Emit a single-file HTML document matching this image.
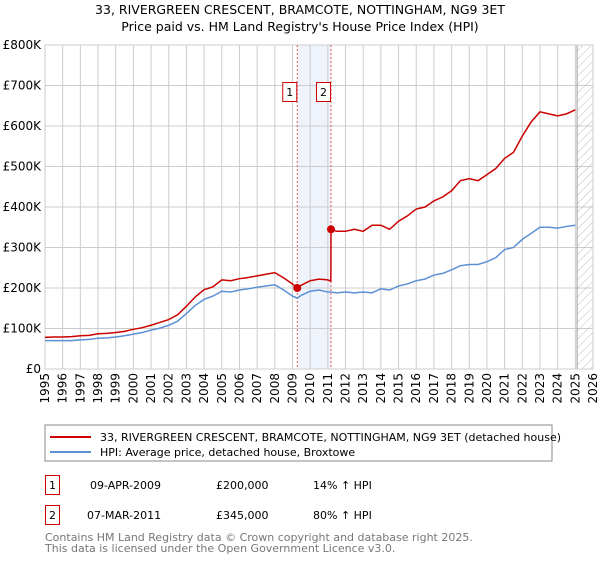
<!DOCTYPE html>
<html><head><meta charset="utf-8"><style>
body{margin:0;background:#fff;font-family:"Liberation Sans","DejaVu Sans",sans-serif;}
svg text{font-family:"DejaVu Sans","Liberation Sans",sans-serif;}
</style></head><body>
<svg id="c" width="600" height="560" xmlns="http://www.w3.org/2000/svg">
<defs><pattern id="hatch" width="6" height="6" patternUnits="userSpaceOnUse" patternTransform="rotate(45)"><line x1="0" y1="0" x2="0" y2="6" stroke="#bbb" stroke-width="1"/></pattern></defs>
<text x="300" y="14" text-anchor="middle" font-size="12.5">33, RIVERGREEN CRESCENT, BRAMCOTE, NOTTINGHAM, NG9 3ET</text>
<text x="300" y="31" text-anchor="middle" font-size="12.5">Price paid vs. HM Land Registry's House Price Index (HPI)</text>
<g id="grid"></g><g id="marks"></g><g id="axes"></g>
<rect x="45" y="425" width="507" height="36" fill="none" stroke="#888"/>
<line x1="50" y1="437" x2="91" y2="437" stroke="#cc0000" stroke-width="2"/>
<text x="100" y="441" font-size="11">33, RIVERGREEN CRESCENT, BRAMCOTE, NOTTINGHAM, NG9 3ET (detached house)</text>
<line x1="50" y1="452" x2="91" y2="452" stroke="#5b8fd6" stroke-width="2"/>
<text x="100" y="456" font-size="11">HPI: Average price, detached house, Broxtowe</text>
<g font-size="11">
<rect x="45.5" y="475.5" width="14" height="19" fill="none" stroke="#cc0000"/>
<text x="52.5" y="489" text-anchor="middle">1</text>
<text x="90" y="489">09-APR-2009</text>
<text x="216" y="489">£200,000</text>
<text x="313" y="489">14% ↑ HPI</text>
<rect x="45.5" y="505.5" width="14" height="19" fill="none" stroke="#cc0000"/>
<text x="52.5" y="519" text-anchor="middle">2</text>
<text x="87" y="519">07-MAR-2011</text>
<text x="216" y="519">£345,000</text>
<text x="313" y="519">80% ↑ HPI</text>
</g>
<text x="45" y="541" font-size="11" fill="#777">Contains HM Land Registry data © Crown copyright and database right 2025.</text>
<text x="45" y="552" font-size="11" fill="#777">This data is licensed under the Open Government Licence v3.0.</text>
</svg>
<script>
const years=[1995,1995.5,1996,1996.5,1997,1997.5,1998,1998.5,1999,1999.5,2000,2000.5,2001,2001.5,2002,2002.5,2003,2003.5,2004,2004.5,2005,2005.5,2006,2006.5,2007,2007.5,2008,2008.5,2009,2009.27,2009.5,2010,2010.5,2011,2011.18,2011.5,2012,2012.5,2013,2013.5,2014,2014.5,2015,2015.5,2016,2016.5,2017,2017.5,2018,2018.5,2019,2019.5,2020,2020.5,2021,2021.5,2022,2022.5,2023,2023.5,2024,2024.5,2025];
const hpiValues=[70,70,70,70,72,73,76,77,79,82,86,90,96,101,108,118,137,157,172,180,192,190,195,198,202,205,208,195,180,175,182,192,195,190,190,188,190,188,190,188,198,195,205,210,218,222,232,236,245,255,258,258,265,275,295,300,320,335,350,350,348,352,355];
const priceYears=[1995,1995.5,1996,1996.5,1997,1997.5,1998,1998.5,1999,1999.5,2000,2000.5,2001,2001.5,2002,2002.5,2003,2003.5,2004,2004.5,2005,2005.5,2006,2006.5,2007,2007.5,2008,2008.5,2009,2009.27,2009.5,2010,2010.5,2011,2011.17,2011.18,2011.5,2012,2012.5,2013,2013.5,2014,2014.5,2015,2015.5,2016,2016.5,2017,2017.5,2018,2018.5,2019,2019.5,2020,2020.5,2021,2021.5,2022,2022.5,2023,2023.5,2024,2024.5,2025];
const priceValues=[78,79,79,80,82,83,87,88,90,93,98,102,108,115,122,134,155,178,196,203,220,218,223,226,230,234,238,225,210,200,207,218,222,220,217,345,340,340,345,340,355,355,345,365,378,395,400,415,425,440,465,470,465,480,495,520,535,575,610,635,630,625,630,640];
const sales=[{n:"1",yr:2009.27,v:200},{n:"2",yr:2011.18,v:345}];
const yTicks=[0,100,200,300,400,500,600,700,800];
const yLabels=["£0","£100K","£200K","£300K","£400K","£500K","£600K","£700K","£800K"];
const xTicks=[1995,1996,1997,1998,1999,2000,2001,2002,2003,2004,2005,2006,2007,2008,2009,2010,2011,2012,2013,2014,2015,2016,2017,2018,2019,2020,2021,2022,2023,2024,2025,2026];
const L=45,R=593,T=45,B=369;
const x=yr=>L+(yr-1995)/(2026-1995)*(R-L);
const y=v=>B-v/800*(B-T);
const NS="http://www.w3.org/2000/svg";
function mk(tag,parent,attrs){const e=document.createElementNS(NS,tag);for(const k in attrs)e.setAttribute(k,attrs[k]);parent.appendChild(e);return e;}
const grid=document.getElementById('grid'),marks=document.getElementById('marks'),axes=document.getElementById('axes');
let e=mk('rect',grid,{x:x(sales[0].yr),y:T,width:x(sales[1].yr)-x(sales[0].yr),height:B-T,fill:'#eef3fc'});


yTicks.forEach((t,i)=>{
 let g=mk('line',grid,{x1:L,x2:R,y1:y(t),y2:y(t),stroke:'#ccc'});
 
 
 let l=mk('text',axes,{x:L-4,y:y(t)+4,'text-anchor':'end','font-size':'12'});l.textContent=yLabels[i];
 
 
});
xTicks.forEach(t=>{
 let g=mk('line',grid,{x1:x(t),x2:x(t),y1:T,y2:B,stroke:'#ccc'});
 
 
 let l=mk('text',axes,{x:0,y:0,'text-anchor':'end','font-size':'12',transform:`translate(${x(t)+4},${B+4}) rotate(-90)`});l.textContent=t;
 
 
});
let h=mk('rect',grid,{x:x(2025.1),y:T,width:R-x(2025.1),height:B-T,fill:'url(#hatch)',stroke:'#999'});


let fr=mk('rect',grid,{x:L,y:T,width:R-L,height:B-T,fill:'none',stroke:'#ccc'});


sales.forEach(s=>{
 let v=mk('line',marks,{x1:x(s.yr),x2:x(s.yr),y1:T,y2:B,stroke:'#e06060','stroke-dasharray':'2,2'});
 
 
});
let hp=mk('polyline',marks,{points:years.map((t,i)=>x(t)+','+y(hpiValues[i])).join(' '),fill:'none',stroke:'#5b8fd6','stroke-width':1.5});


let pp=mk('polyline',marks,{points:priceYears.map((t,i)=>x(t)+','+y(priceValues[i])).join(' '),fill:'none',stroke:'#cc0000','stroke-width':1.5});


sales.forEach(s=>{
 let c=mk('circle',marks,{cx:x(s.yr),cy:y(s.v),r:4,fill:'#cc0000'});
 
 
 let b=mk('rect',marks,{x:x(s.yr)-14.5,y:82.5,width:14,height:19,fill:'#fff',stroke:'#cc0000'});
 
 
 let t=mk('text',marks,{x:x(s.yr)-7.5,y:96,'text-anchor':'middle','font-size':'11'});t.textContent=s.n;
 
 
});
</script>
</body></html>
